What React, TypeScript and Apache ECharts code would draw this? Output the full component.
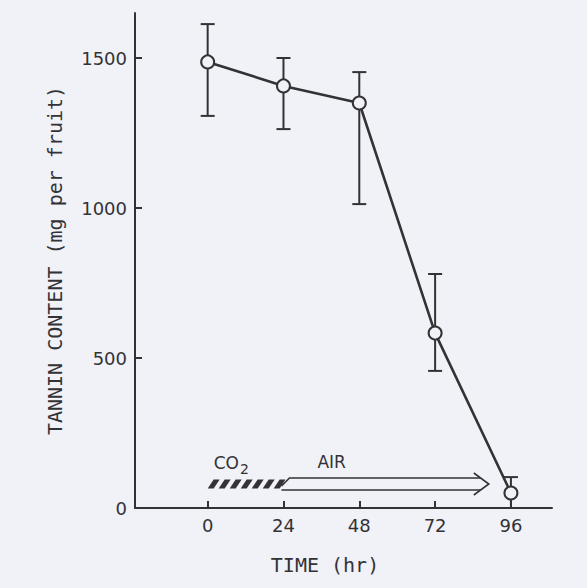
import React, { useEffect, useRef } from "react";
import * as echarts from "echarts";

// Sampling times (hr) and mean tannin content with error-bar limits (mg per fruit)
const times = [0, 24, 48, 72, 96];
const tannin = [1487, 1407, 1350, 583, 50];
const errLow = [1307, 1263, 1013, 457, 0];
const errHigh = [1613, 1500, 1453, 780, 103];

// Tick values
const yTicks = [0, 500, 1000, 1500];
const xTicks = [0, 24, 48, 72, 96];

// Treatment phases drawn as the arrow above the time axis (hr)
const phaseNames = ["CO2", "AIR"];
const phaseStart = [0, 24];
const phaseEnd = [24, 89];
const ARROW_LEVEL = 80;

const INK = "#333336";
const BG = "#f1f1f8";
const NUM_FONT = "DejaVu Sans";
const NAME_FONT = "DejaVu Sans Mono";

export default function App() {
  const ref = useRef<HTMLDivElement>(null);

  useEffect(() => {
    if (!ref.current) return;
    const chart = echarts.init(ref.current, undefined, { renderer: "svg" });

    const errData = times.map((t, i) => [t, errLow[i], errHigh[i]]);
    const lineData = times.map((t, i) => [t, tannin[i]]);
    const phaseData = phaseNames.map((_, i) => [phaseStart[i], phaseEnd[i]]);

    const option: any = {
      animation: false,
      backgroundColor: BG,
      grid: { left: 135, right: 35, top: 13, bottom: 80 },
      xAxis: {
        type: "value",
        min: -23,
        max: 109,
        name: "TIME (hr)",
        nameLocation: "middle",
        nameGap: 47,
        nameTextStyle: {
          fontFamily: NAME_FONT,
          fontSize: 20,
          color: INK,
          padding: [0, 37, 0, 0],
        },
        splitLine: { show: false },
        axisLine: { onZero: false, lineStyle: { color: INK, width: 2 } },
        axisTick: {
          inside: true,
          length: 7,
          customValues: xTicks,
          lineStyle: { color: INK, width: 2 },
        },
        axisLabel: {
          customValues: xTicks,
          margin: 8,
          formatter: (v: number) => String(v),
          fontFamily: NUM_FONT,
          fontSize: 18,
          color: INK,
        },
      },
      yAxis: {
        type: "value",
        min: 0,
        max: 1650,
        name: "TANNIN CONTENT (mg per fruit)",
        nameLocation: "middle",
        nameRotate: 90,
        nameGap: 70,
        nameTextStyle: {
          fontFamily: NAME_FONT,
          fontSize: 20,
          color: INK,
        },
        splitLine: { show: false },
        axisLine: { show: true, onZero: false, lineStyle: { color: INK, width: 2 } },
        axisTick: {
          show: true,
          inside: true,
          length: 7,
          customValues: yTicks,
          lineStyle: { color: INK, width: 2 },
        },
        axisLabel: {
          customValues: yTicks,
          margin: 8,
          formatter: (v: number) => String(v),
          fontFamily: NUM_FONT,
          fontSize: 18,
          color: INK,
        },
      },
      series: [
        {
          // error bars
          type: "custom",
          z: 1,
          data: errData,
          renderItem: (params: any, api: any) => {
            const x = api.value(0);
            const top = api.coord([x, api.value(2)]);
            const bot = api.coord([x, api.value(1)]);
            const hw = 7;
            const style = { stroke: INK, lineWidth: 2 };
            return {
              type: "group",
              children: [
                { type: "line", shape: { x1: top[0], y1: top[1], x2: bot[0], y2: bot[1] }, style },
                { type: "line", shape: { x1: top[0] - hw, y1: top[1], x2: top[0] + hw, y2: top[1] }, style },
                { type: "line", shape: { x1: bot[0] - hw, y1: bot[1], x2: bot[0] + hw, y2: bot[1] }, style },
              ],
            };
          },
        },
        {
          type: "line",
          z: 3,
          data: lineData,
          symbol: "circle",
          symbolSize: 13,
          itemStyle: { color: BG, borderColor: INK, borderWidth: 2 },
          lineStyle: { color: INK, width: 2.6 },
        },
        {
          // CO2 / AIR treatment arrow
          type: "custom",
          z: 2,
          clip: false,
          data: phaseData,
          renderItem: (params: any, api: any) => {
            const i = params.dataIndex;
            const p0 = api.coord([api.value(0), ARROW_LEVEL]);
            const p1 = api.coord([api.value(1), ARROW_LEVEL]);
            const x0 = p0[0];
            const x1 = p1[0];
            const yc = p0[1];
            if (i === 0) {
              const stripes: any[] = [];
              const h = 4.5;
              for (let x = x0; x < x1 - 2; x += 11) {
                const w = Math.min(6, x1 - x);
                stripes.push({
                  type: "polygon",
                  shape: {
                    points: [
                      [x, yc + h],
                      [x + w, yc + h],
                      [Math.min(x + w + 6, x1 + 2), yc - h],
                      [x + 6, yc - h],
                    ],
                  },
                  style: { fill: INK },
                });
              }
              stripes.push({
                type: "text",
                x: x0 + 6,
                y: yc - 8,
                style: {
                  text: "{a|CO}{b|2}",
                  rich: {
                    a: { fontFamily: NUM_FONT, fontSize: 17, fill: INK },
                    b: { fontFamily: NUM_FONT, fontSize: 14, fill: INK, padding: [12, 0, 0, 1] },
                  },
                  verticalAlign: "bottom",
                  align: "left",
                },
              });
              return { type: "group", children: stripes };
            }
            const half = 6;
            const tip = x1;
            const style = { stroke: INK, lineWidth: 1.6, fill: "none" };
            return {
              type: "group",
              children: [
                {
                  type: "polyline",
                  shape: { points: [[x0 - 2, yc + 2], [x0 + 6, yc - half], [tip - 8, yc - half]] },
                  style,
                },
                {
                  type: "polyline",
                  shape: { points: [[x0 - 2, yc + half], [tip - 8, yc + half]] },
                  style,
                },
                {
                  type: "polyline",
                  shape: { points: [[tip - 15, yc - 11], [tip, yc], [tip - 15, yc + 11]] },
                  style,
                },
                {
                  type: "text",
                  x: x0 + 34,
                  y: yc - 14,
                  style: {
                    text: phaseNames[i],
                    fontFamily: NUM_FONT,
                    fontSize: 17,
                    fill: INK,
                    verticalAlign: "bottom",
                    align: "left",
                  },
                },
              ],
            };
          },
        },
      ],
    };

    chart.setOption(option);
    return () => chart.dispose();
  }, []);

  return (
    <div
      ref={ref}
      style={{ position: "fixed", left: 0, top: 0, width: 587, height: 588 }}
    />
  );
}
